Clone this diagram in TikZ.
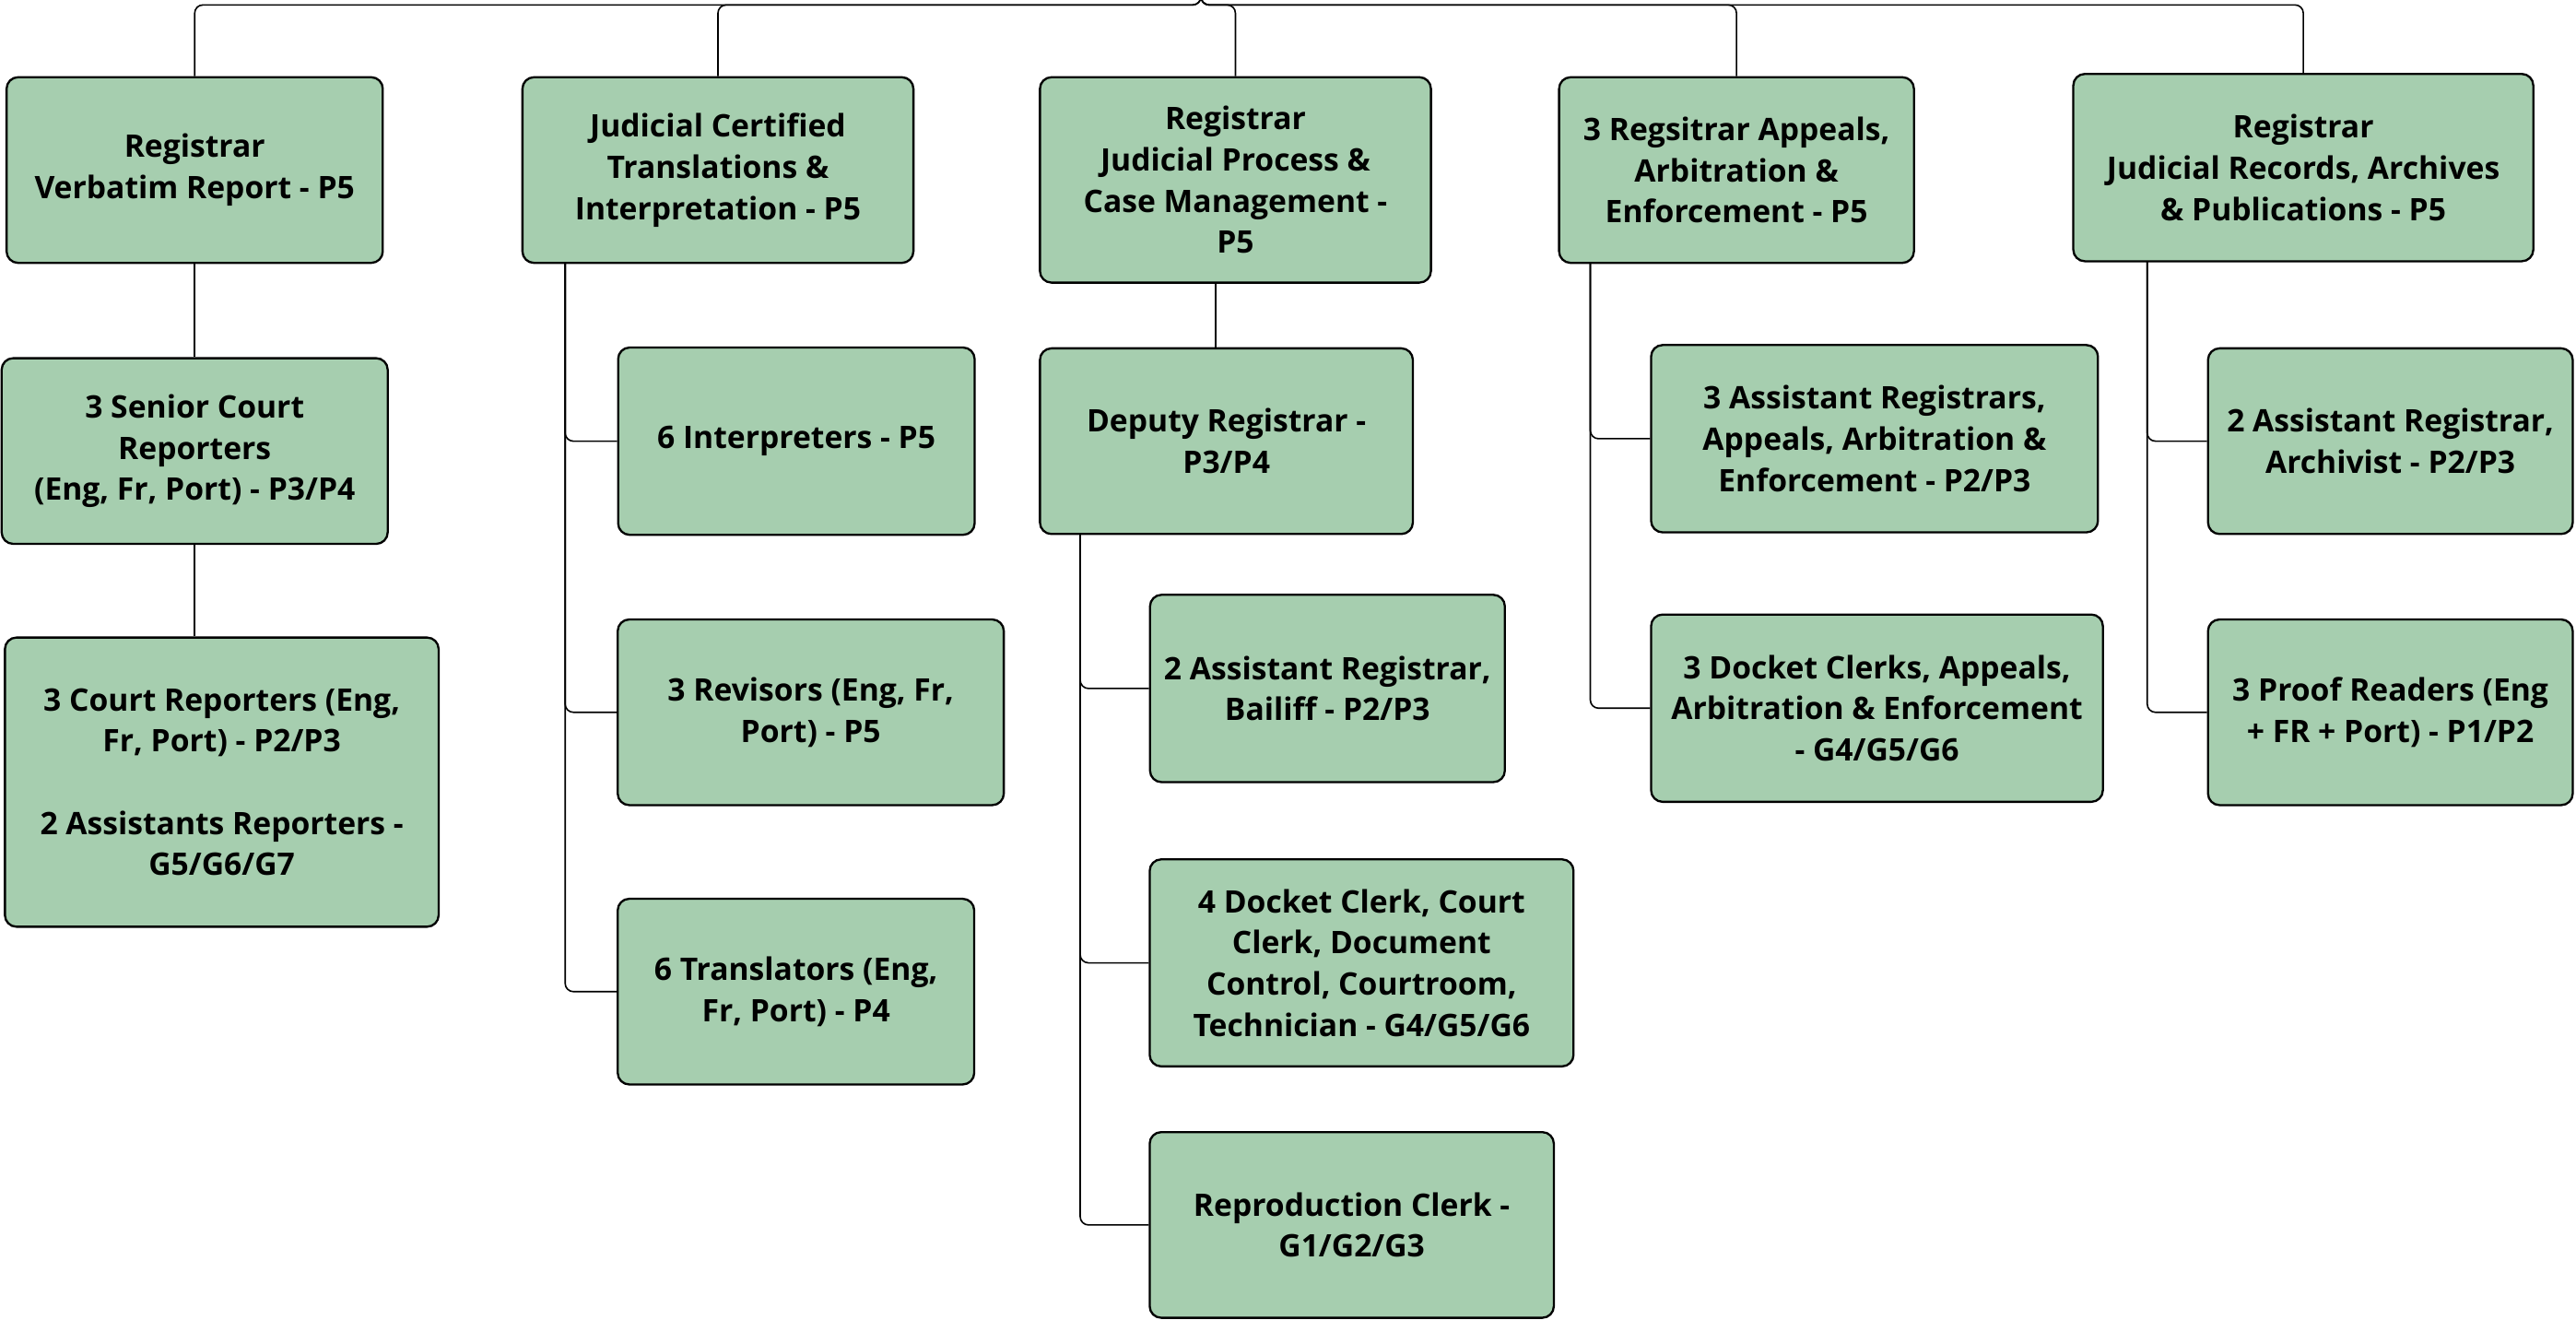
\documentclass[tikz,border=0pt]{standalone}
\usepackage{fontspec}
\setmainfont{Open Sans}
\usepackage{xcolor}
\usepackage{tikz}
\usetikzlibrary{positioning}
\definecolor{postgreen}{RGB}{166,206,175}

\begin{document}
\begin{tikzpicture}[x=0.035cm, y=-0.035cm, font=\bfseries\fontsize{18.8}{25}\selectfont,
		post/.style={draw, line width=1.3pt, fill=postgreen, rounded corners=7pt, align=center, inner sep=0pt},
		wh/.style 2 args={minimum width=#1*0.035cm, minimum height=#2*0.035cm},
		link/.style={draw, line width=0.9pt, rounded corners=5pt}]
		\useasboundingbox (0,0) rectangle (1568,803);
		% heads of the five registries
		\node[post, wh={229}{113}] (vr) at (118.5,103.5) {Registrar\\Verbatim Report - P5};
		\node[post, wh={238}{113}] (jt) at (437,103.5) {Judicial Certified\\Translations \&\\Interpretation - P5};
		\node[post, wh={238}{125}] (jp) at (752,109.5) {Registrar\\Judicial Process \&\\Case Management -\\P5};
		\node[post, wh={216}{113}] (ap) at (1057,103.5) {3 Regsitrar Appeals,\\Arbitration \&\\Enforcement - P5};
		\node[post, wh={280}{114}] (jr) at (1402,102) {Registrar\\Judicial Records, Archives\\\& Publications - P5};
		% verbatim report
		\node[post, wh={235}{113}] (sc) at (118.5,274.5) {3 Senior Court\\Reporters\\(Eng, Fr, Port) - P3/P4};
		\node[post, wh={264}{176}] (cr) at (135,476) {3 Court Reporters (Eng,\\Fr, Port) - P2/P3\\[25pt]2 Assistants Reporters -\\G5/G6/G7};
		% translations
		\node[post, wh={217}{114}] (in) at (484.75,268.5) {6 Interpreters - P5};
		\node[post, wh={235}{113}] (rv) at (493.5,433.5) {3 Revisors (Eng, Fr,\\Port) - P5};
		\node[post, wh={217}{113}] (tr) at (484.5,603.5) {6 Translators (Eng,\\Fr, Port) - P4};
		% case management
		\node[post, wh={227}{113}] (dr) at (746.5,268.5) {Deputy Registrar -\\P3/P4};
		\node[post, wh={216}{114}] (ba) at (808,419) {2 Assistant Registrar,\\Bailiff - P2/P3};
		\node[post, wh={258}{126}] (dc) at (828.8,586) {4 Docket Clerk, Court\\Clerk, Document\\Control, Courtroom,\\Technician - G4/G5/G6};
		\node[post, wh={246}{113}] (rc) at (822.8,745.5) {Reproduction Clerk -\\G1/G2/G3};
		% appeals
		\node[post, wh={272}{114}] (ar) at (1141,267) {3 Assistant Registrars,\\Appeals, Arbitration \&\\Enforcement - P2/P3};
		\node[post, wh={275}{114}] (dk) at (1142.5,431) {3 Docket Clerks, Appeals,\\Arbitration \& Enforcement\\- G4/G5/G6};
		% records
		\node[post, wh={222}{113}] (av) at (1455,268.5) {2 Assistant Registrar,\\Archivist - P2/P3};
		\node[post, wh={222}{113}] (pr) at (1455,433.5) {3 Proof Readers (Eng\\+ FR + Port) - P1/P2};

		% connectors
		\coordinate (root) at (731,-20);
		\coordinate (bus) at (731,3);
		\foreach \head in {vr,jt,jp,ap,jr}
			\draw[link] (root) -- (bus) -| (\head.north);
		\draw[link] (vr) -- (sc);
		\draw[link] (sc) -- (sc.south |- cr.north);
		\coordinate (jtspine) at (344,160);
		\foreach \sub in {in,rv,tr}
			\draw[link] (jtspine) |- (\sub.west);
		\coordinate (drtop) at (740,325);
		\draw[link] (drtop |- dr.north) -- (drtop |- jp.south);
		\coordinate (drspine) at (657.5,325);
		\foreach \sub in {ba,dc,rc}
			\draw[link] (drspine) |- (\sub.west);
		\coordinate (apspine) at (968,160);
		\foreach \sub in {ar,dk}
			\draw[link] (apspine) |- (\sub.west);
		\coordinate (jrspine) at (1307,159);
		\foreach \sub in {av,pr}
			\draw[link] (jrspine) |- (\sub.west);
	\end{tikzpicture}
\end{document}
